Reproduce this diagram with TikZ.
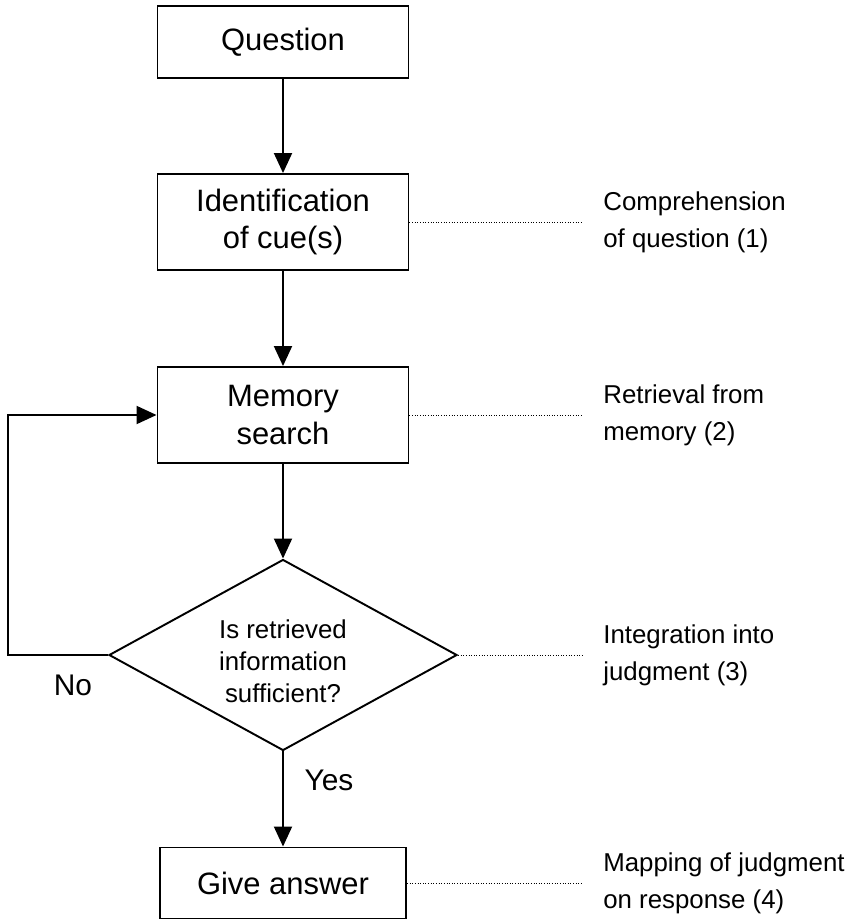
\documentclass[tikz,border=0pt]{standalone}
\usepackage{fontspec}
\setmainfont{Liberation Sans}
\usetikzlibrary{arrows.meta,shapes.geometric}

\tikzset{
  box/.style={draw, line width=1.1pt, minimum width=50.2mm, align=center, font=\fontsize{17.6}{21.5}\selectfont},
  test/.style={draw, diamond, line width=1.1pt, minimum width=69.6mm, minimum height=38.2mm, inner sep=0pt},
  ask/.style={align=center, inner sep=0pt, font=\fontsize{14.7}{18.1}\selectfont},
  flow/.style={line width=1.1pt, -{Triangle[length=4mm,width=3.6mm]}},
  stage/.style={anchor=west, inner sep=0pt, align=left, font=\fontsize{14.7}{21}\selectfont},
  guide/.style={densely dotted, line width=0.5pt, shorten >=4mm},
  reply/.style={font=\fontsize{17}{20}\selectfont}
}

\begin{document}
\begin{tikzpicture}[x=0.2mm, y=-0.2mm]
\useasboundingbox (0,0) rectangle (854,921);

% flow chart
\node[box, minimum height=14.4mm] (q) at (283, 42) {Question};
\node[box, minimum height=19.2mm] (cue) at (283, 222) {Identification\\of cue(s)};
\node[box, minimum height=19.2mm] (mem) at (283, 415) {Memory\\search};
\node[test] (dec) at (283, 655) {};
\node[ask] (dectext) at (283, 661) {Is retrieved\\information\\sufficient?};
\node[box, minimum width=49.2mm, minimum height=14.2mm] (ans) at (283, 883) {Give answer};

\draw[flow] (q) -- (cue);
\draw[flow] (cue) -- (mem);
\draw[flow] (mem) -- (dec);
\draw[flow] (dec) -- (ans);

\coordinate (back) at (8, 655);
\draw[flow] (dec.west) -- (back) |- (mem.west);

\node[reply] (no) at (73, 685) {No};
\node[reply] (yes) at (329, 780) {Yes};

% stages
\node[stage] (s1) at (603, 222) {Comprehension\\of question (1)};
\node[stage] (s2) at (603, 415) {Retrieval from\\memory (2)};
\node[stage] (s3) at (603, 655) {Integration into\\judgment (3)};
\node[stage] (s4) at (603, 883) {Mapping of judgment\\on response (4)};

\draw[guide] (cue.east) -- (s1.west);
\draw[guide] (mem.east) -- (s2.west);
\draw[guide] (dec.east) -- (s3.west);
\draw[guide] (ans.east) -- (s4.west);

\end{tikzpicture}
\end{document}
